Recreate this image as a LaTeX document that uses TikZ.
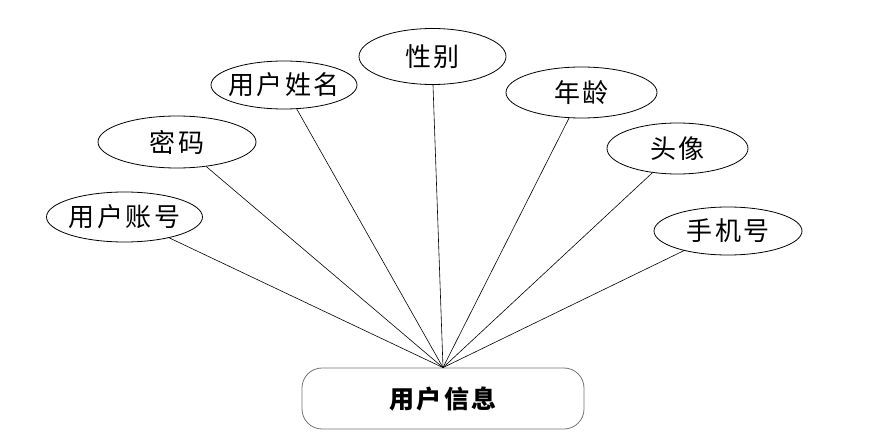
\documentclass[tikz,border=0pt]{standalone}
\usepackage{fontspec}
\newfontfamily\cjk[LetterSpace=10]{Noto Sans CJK SC}
\usetikzlibrary{shapes.geometric}
\newcommand{\fixw}[1]{\makebox[0pt]{#1}}
\begin{document}
\begin{tikzpicture}[x=1pt,y=-1pt,
  attr/.style={draw, ellipse, line width=0.8pt, inner sep=0pt, font=\cjk\fontsize{26}{28}\selectfont},
  ent/.style={draw=black!55, rounded corners=20pt, line width=0.8pt, minimum width=282pt, minimum height=61pt, inner sep=0pt, font=\cjk\bfseries\fontsize{25}{28}\selectfont},
  link/.style={line width=0.6pt}]
\useasboundingbox (0,0) rectangle (871,433);
\node[ent] (u) at (443,398.5) {用户信息};
\node[attr, minimum width=156pt, minimum height=50pt] (a1) at (124.5,217) {\fixw{用户账号}};
\node[attr, minimum width=158pt, minimum height=52pt] (a2) at (177,142) {\fixw{密码}};
\node[attr, minimum width=146pt, minimum height=48pt] (a3) at (284,85) {\fixw{用户姓名}};
\node[attr, minimum width=147pt, minimum height=56pt] (a4) at (432.5,56.5) {\fixw{性别}};
\node[attr, minimum width=151pt, minimum height=51pt] (a5) at (581.5,92.5) {\fixw{年龄}};
\node[attr, minimum width=141pt, minimum height=51pt] (a6) at (677.5,148.5) {\fixw{头像}};
\node[attr, minimum width=148pt, minimum height=48pt] (a7) at (728,231) {\fixw{手机号}};
\draw[link] (a1.-25) -- (u.north);
\draw[link] (a2.-40) -- (u.north);
\draw[link] (a3.-62) -- (u.north);
\draw[link] (a4.-89) -- (u.north);
\draw[link] (a5.-116) -- (u.north);
\draw[link] (a6.-136) -- (u.north);
\draw[link] (a7.-156) -- (u.north);
\end{tikzpicture}
\end{document}
